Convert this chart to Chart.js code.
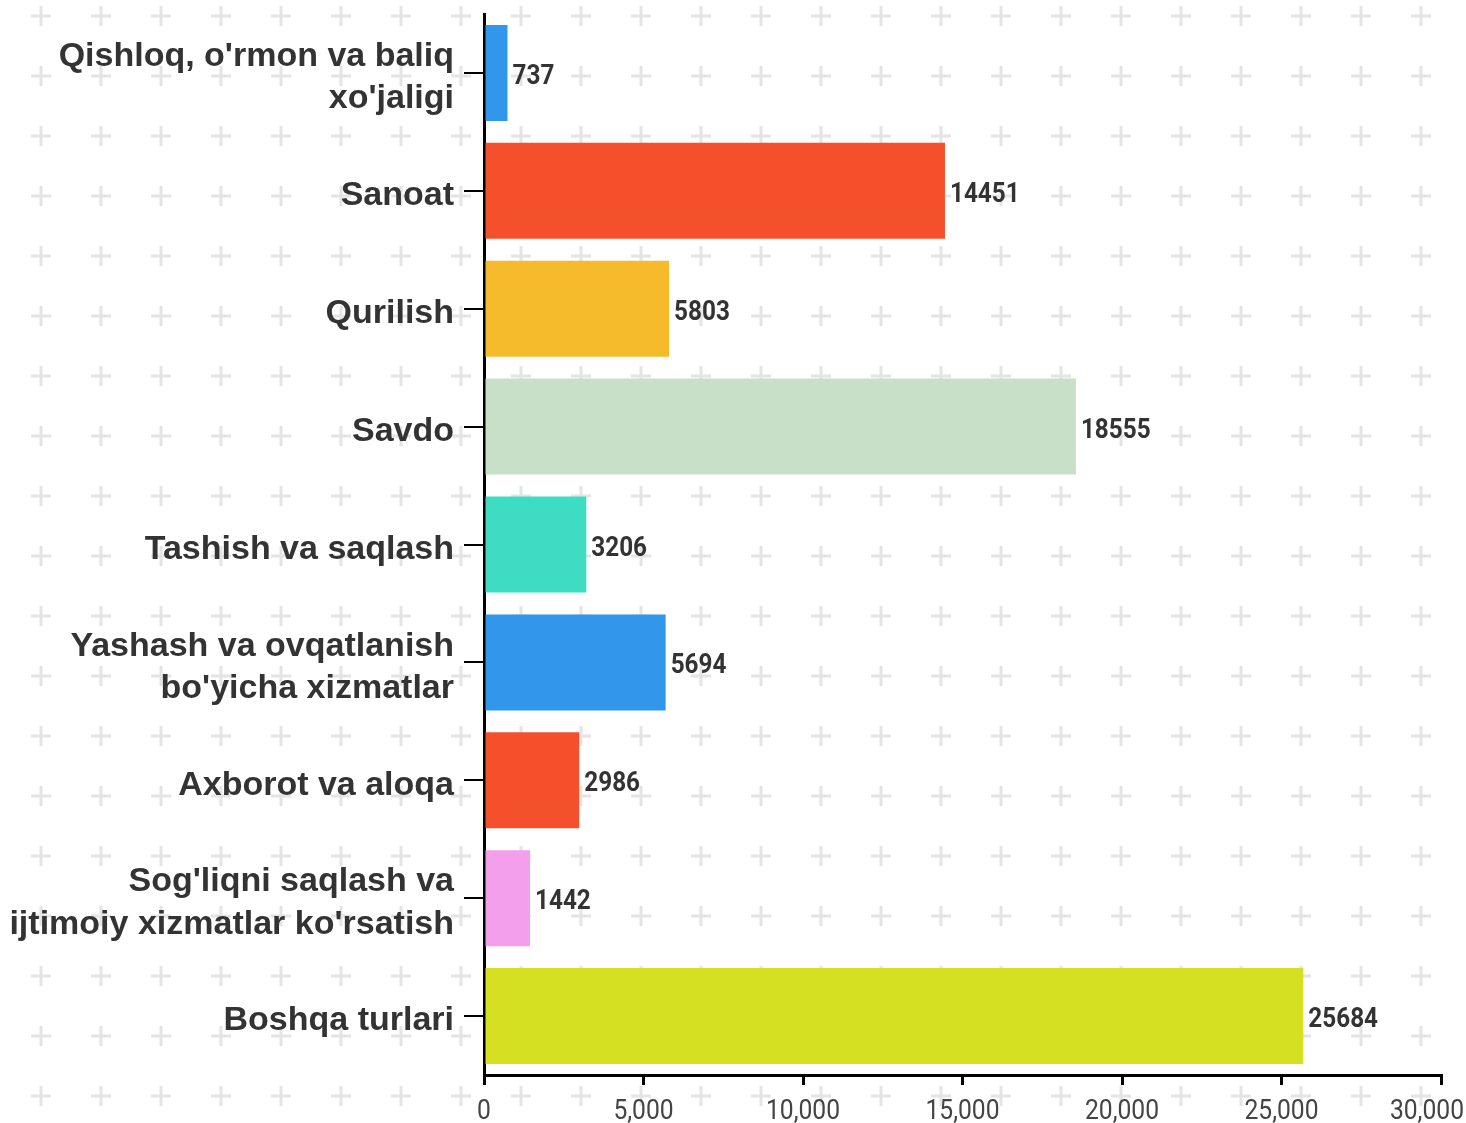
<!DOCTYPE html>
<html>
<head>
<meta charset="utf-8">
<script src="https://cdn.jsdelivr.net/npm/chart.js@4"></script>
<style>
  html, body { margin:0; padding:0; background:#fff; }
  #wrap {
    width:1466px; height:1123px; position:relative;
    background-image:url("data:image/svg+xml,%3Csvg xmlns='http://www.w3.org/2000/svg' width='60' height='60'%3E%3Cpath d='M30 20v20M20 30h20' stroke='%23e4e4e4' stroke-width='3'/%3E%3C/svg%3E");
    background-position: 11px -14px;
  }
</style>
</head>
<body>
<div id="wrap"><canvas id="chart"></canvas></div>
<script>
// ─── Data ───
const categories = [
    ["Qishloq, o'rmon va baliq", "xo'jaligi"],
    "Sanoat",
    "Qurilish",
    "Savdo",
    "Tashish va saqlash",
    ["Yashash va ovqatlanish", "bo'yicha xizmatlar"],
    "Axborot va aloqa",
    ["Sog'liqni saqlash va", "ijtimoiy xizmatlar ko'rsatish"],
    "Boshqa turlari"
];
const values = [737, 14451, 5803, 18555, 3206, 5694, 2986, 1442, 25684];
const barColors = ['#3296ea', '#f5502c', '#f5bb2c', '#c8dfc8', '#3ddcc3', '#3296ea', '#f5502c', '#f49fec', '#d6e022'];
const xTickValues = [0, 5000, 10000, 15000, 20000, 25000, 30000];

// ─── Plugins ───
// value at the end of each bar, condensed bold
const valueLabels = {
    id: 'valueLabels',
    afterDatasetsDraw(chart) {
        const ctx = chart.ctx;
        const meta = chart.getDatasetMeta(0);
        ctx.save();
        ctx.font = 'bold 27px Roboto';
        ctx.fillStyle = '#333';
        ctx.textAlign = 'left';
        ctx.textBaseline = 'alphabetic';
        meta.data.forEach((bar, i) => {
            ctx.save();
            ctx.translate(bar.x + 5, bar.y + 11);
            ctx.scale(0.9, 1);
            ctx.fillText(String(values[i]), 0, 0);
            ctx.restore();
        });
        ctx.restore();
    }
};

// x tick labels, kept inside the canvas like the original
const xLabels = {
    id: 'xLabels',
    afterDraw(chart) {
        const s = chart.scales.x, ctx = chart.ctx;
        ctx.save();
        ctx.font = '28px Roboto';
        ctx.fillStyle = '#444';
        ctx.textAlign = 'left';
        xTickValues.forEach(v => {
            const label = v.toLocaleString('en-US');
            const w = ctx.measureText(label).width * 0.88;
            const cx = s.getPixelForValue(v);
            const left = Math.min(cx - w / 2, chart.width - 2 - w);
            ctx.save();
            ctx.translate(left, s.top + 44);
            ctx.scale(0.88, 1);
            ctx.fillText(label, 0, 0);
            ctx.restore();
        });
        ctx.restore();
    }
};

// ─── Chart ───
new Chart(document.getElementById('chart'), {
    type: 'bar',
    data: {
        labels: categories,
        datasets: [{
            data: values,
            backgroundColor: barColors,
            borderWidth: 0,
            categoryPercentage: 0.9,
            barPercentage: 0.905
        }]
    },
    options: {
        indexAxis: 'y',
        responsive: true,
        maintainAspectRatio: false,
        animation: false,
        layout: { padding: { top: 14, right: 25, bottom: 0, left: 0 } },
        plugins: { legend: { display: false }, tooltip: { enabled: false } },
        scales: {
            x: {
                min: 0, max: 30000,
                afterBuildTicks: s => { s.ticks = xTickValues.map(v => ({ value: v })); },
                afterFit: s => { s.height = 48; s.paddingLeft = 0; s.paddingRight = 0; },
                border: { display: true, color: '#000', width: 3 },
                grid: { drawOnChartArea: false, tickLength: 10, tickColor: '#000', lineWidth: 3 },
                ticks: { display: false }
            },
            y: {
                afterFit: s => { s.width = 484; s.paddingTop = 0; s.paddingBottom = 0; },
                border: { display: true, color: '#000', width: 3 },
                grid: { offset: false, drawOnChartArea: false, tickLength: 20, tickColor: '#000', lineWidth: 2 },
                ticks: {
                    color: '#333',
                    padding: 10,
                    labelOffset: 5,
                    font: { family: "'Liberation Sans', Arial, sans-serif", size: 34, weight: 'bold', lineHeight: 1.24 }
                }
            }
        }
    },
    plugins: [valueLabels, xLabels]
});
</script>
</body>
</html>
